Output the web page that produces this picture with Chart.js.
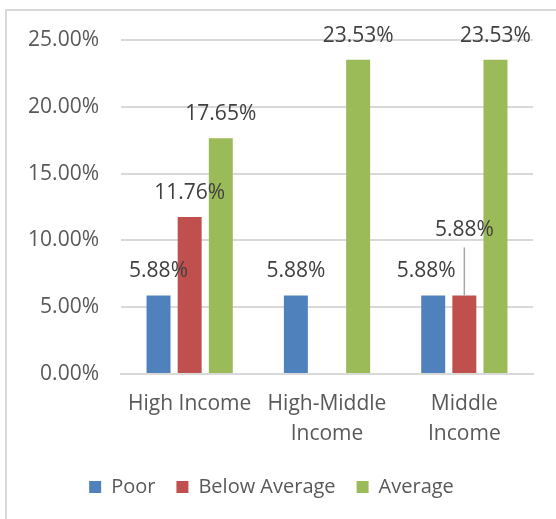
<!DOCTYPE html>
<html>
<head>
<meta charset="utf-8">
<script src="https://cdn.jsdelivr.net/npm/chart.js@4"></script>
<style>
  html, body { margin: 0; padding: 0; background: #fff; overflow: hidden; }
  #wrap { position: relative; width: 556px; height: 519px; }
  #frame { position: absolute; left: 5px; top: 9px; width: 600px; height: 600px; border: 2px solid #d9d9d9; box-sizing: border-box; }
  #chart { position: absolute; left: 0; top: 0; }
</style>
</head>
<body>
<div id="wrap">
  <div id="frame"></div>
  <canvas id="chart" width="556" height="519"></canvas>
</div>
<script>
// chart data
const categories = ['High Income', ['High-Middle', 'Income'], ['Middle', 'Income']];
const poor = [5.88, 5.88, 5.88];
const belowAverage = [11.76, 0, 5.88];
const average = [17.65, 23.53, 23.53];
const yTicks = [0, 5, 10, 15, 20, 25];

const FONT = '"Open Sans", "Liberation Sans", sans-serif';

// draws value labels above each bar
const barLabels = {
    id: 'barLabels',
    afterLayout(chart) {
        // legend sits a little right of centre in the original
        chart.legend.left += 5;
        chart.legend.right += 5;
    },
    afterDatasetsDraw(chart) {
        const ctx = chart.ctx;
        ctx.save();
        ctx.font = '21px ' + FONT;
        ctx.fillStyle = '#404040';
        ctx.textAlign = 'center';
        ctx.textBaseline = 'middle';
        chart.data.datasets.forEach(function (ds, di) {
            const meta = chart.getDatasetMeta(di);
            meta.data.forEach(function (bar, i) {
                const v = ds.data[i];
                if (!v) return;
                let x = bar.x;
                let y = bar.y - 24;
                // Middle Income labels were nudged so they don't overlap
                if (i === 2 && di === 0) x -= 7;
                if (i === 2 && di === 1) {
                    y = bar.y - 65;
                    ctx.strokeStyle = '#a6a6a6';
                    ctx.lineWidth = 1.5;
                    ctx.beginPath();
                    ctx.moveTo(bar.x, y + 17);
                    ctx.lineTo(bar.x, bar.y);
                    ctx.stroke();
                }
                ctx.fillText(v.toFixed(2) + '%', x, y);
            });
        });
        ctx.restore();
    }
};

new Chart(document.getElementById('chart'), {
    type: 'bar',
    data: {
        labels: categories,
        datasets: [
            { label: 'Poor', data: poor, backgroundColor: '#4f81bd' },
            { label: 'Below Average', data: belowAverage, backgroundColor: '#c0504d' },
            { label: 'Average', data: average, backgroundColor: '#9bbb59' }
        ]
    },
    options: {
        responsive: false,
        animation: false,
        events: [],
        categoryPercentage: 0.68,
        barPercentage: 0.77,
        layout: { padding: { top: 40, right: 23, left: 0, bottom: 12 } },
        plugins: {
            tooltip: { enabled: false },
            legend: {
                position: 'bottom',
                labels: {
                    boxWidth: 12,
                    boxHeight: 12,
                    padding: 21,
                    color: '#595959',
                    font: { family: FONT, size: 20 }
                }
            }
        },
        scales: {
            x: {
                grid: { display: false, drawTicks: false },
                border: { color: '#d9d9d9', width: 2 },
                ticks: {
                    color: '#595959',
                    padding: 15,
                    maxRotation: 0,
                    font: { family: FONT, size: 21, lineHeight: 1.43 }
                },
                afterFit: function (scale) { scale.height = 82; }
            },
            y: {
                min: 0,
                max: 25,
                afterBuildTicks: function (scale) {
                    scale.ticks = yTicks.map(v => ({ value: v }));
                },
                grid: { color: '#d9d9d9', lineWidth: 2, drawTicks: false },
                border: { display: false },
                ticks: {
                    color: '#595959',
                    padding: 22,
                    font: { family: FONT, size: 21 },
                    callback: function (v) { return v.toFixed(2) + '%'; }
                },
                afterFit: function (scale) { scale.width = 121; }
            }
        }
    },
    plugins: [barLabels]
});
</script>
</body>
</html>
